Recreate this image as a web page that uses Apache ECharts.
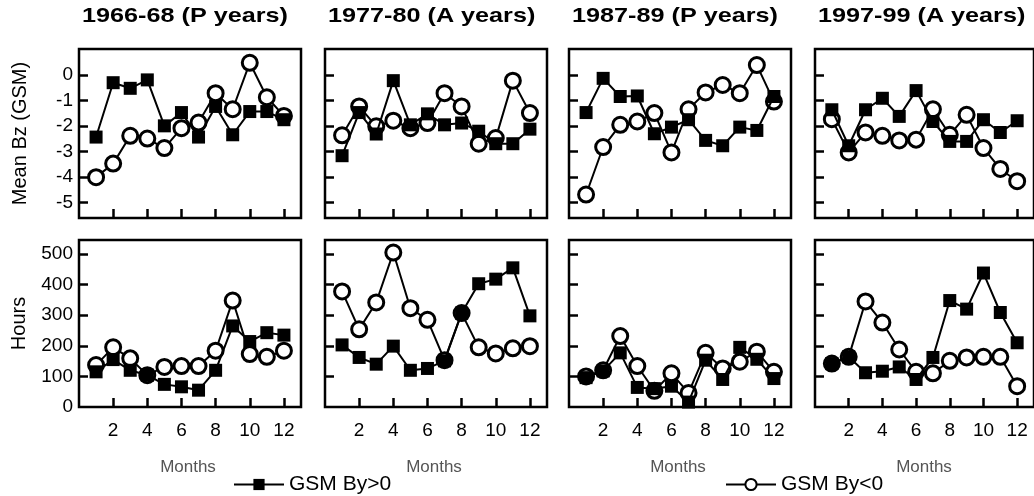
<!DOCTYPE html>
<html>
<head>
<meta charset="utf-8">
<script src="https://cdn.jsdelivr.net/npm/echarts@6/dist/echarts.min.js"></script>
<style>
html,body{margin:0;padding:0;background:#fff;}
#chart{width:1034px;height:496px;}
</style>
</head>
<body>
<div id="chart"></div>
<script>
// ---------------- DATA ----------------
const months = [1,2,3,4,5,6,7,8,9,10,11,12];
const panelTitles = ['1966-68 (P years)', '1977-80 (A years)', '1987-89 (P years)', '1997-99 (A years)'];
const xTickValues = [2,4,6,8,10,12];
const bzTickValues = [-5,-4,-3,-2,-1,0];
const hoursTickValues = [0,100,200,300,400,500];

// Mean Bz (GSM), By>0 (filled squares)
const bzPos6668 = [-2.43,-0.30,-0.52,-0.19,-1.99,-1.47,-2.43,-1.23,-2.34,-1.43,-1.43,-1.75];
const bzPos7780 = [-3.16,-1.47,-2.31,-0.22,-1.95,-1.52,-1.95,-1.88,-2.20,-2.69,-2.69,-2.12];
const bzPos8789 = [-1.47,-0.13,-0.84,-0.82,-2.30,-2.04,-1.75,-2.56,-2.77,-2.04,-2.17,-0.84];
const bzPos9799 = [-1.36,-2.77,-1.36,-0.91,-1.62,-0.61,-1.82,-2.60,-2.60,-1.75,-2.25,-1.79];
// Mean Bz (GSM), By<0 (open circles)
const bzNeg6668 = [-4.00,-3.47,-2.38,-2.49,-2.86,-2.08,-1.86,-0.71,-1.34,0.48,-0.87,-1.60];
const bzNeg7780 = [-2.36,-1.23,-2.01,-1.79,-2.08,-1.88,-0.71,-1.23,-2.69,-2.47,-0.22,-1.49];
const bzNeg8789 = [-4.68,-2.82,-1.95,-1.82,-1.49,-3.03,-1.34,-0.68,-0.39,-0.71,0.39,-1.04];
const bzNeg9799 = [-1.73,-3.03,-2.25,-2.38,-2.56,-2.53,-1.34,-2.34,-1.56,-2.86,-3.68,-4.16];

// Hours, By>0
const hrsPos6668 = [115,155,120,104,74,66,55,120,265,214,243,235];
const hrsPos7780 = [203,162,140,199,120,126,151,307,403,418,455,298];
const hrsPos8789 = [96,118,177,64,60,68,16,153,90,195,156,93];
const hrsPos9799 = [142,164,112,117,131,90,162,348,320,438,309,210];
// Hours, By<0
const hrsNeg6668 = [137,195,159,104,131,134,134,184,348,173,164,184];
const hrsNeg7780 = [378,254,342,505,323,285,153,307,195,175,192,199];
const hrsNeg8789 = [100,120,232,134,53,110,46,177,126,148,181,115];
const hrsNeg9799 = [142,164,345,276,188,115,110,151,162,164,164,68];

const bzPos = [bzPos6668, bzPos7780, bzPos8789, bzPos9799];
const bzNeg = [bzNeg6668, bzNeg7780, bzNeg8789, bzNeg9799];
const hrsPos = [hrsPos6668, hrsPos7780, hrsPos8789, hrsPos9799];
const hrsNeg = [hrsNeg6668, hrsNeg7780, hrsNeg8789, hrsNeg9799];

// ---------------- LAYOUT ----------------
const FONT = '"Liberation Sans", Arial, sans-serif';
const panelLeft = [79, 325, 569, 815];
const panelWidth = 222;
const topRow = {top: 49, height: 169};
const botRow = {top: 240, height: 167};

const grids = [], xAxes = [], yAxes = [], series = [];
const pairs = v => months.map((m, i) => [m, v[i]]);

function addPanel(idx, row, col) {
  const r = row === 0 ? topRow : botRow;
  grids.push({left: panelLeft[col], top: r.top, width: panelWidth, height: r.height,
    show: true, borderColor: '#000', borderWidth: 2.5, backgroundColor: 'transparent'});
  xAxes.push({
    type: 'value', gridIndex: idx, min: 0, max: 13, position: 'bottom',
    axisLine: {show: false, onZero: false},
    axisTick: {show: true, inside: true, length: 9, customValues: xTickValues,
      lineStyle: {color: '#000', width: 2.5}},
    axisLabel: {show: row === 1, customValues: xTickValues, margin: 14,
      color: '#000', fontSize: 19, fontFamily: FONT},
    splitLine: {show: false}
  });
  const isBz = row === 0;
  yAxes.push({
    type: 'value', gridIndex: idx, position: 'left',
    min: isBz ? -5.6 : 0, max: isBz ? 1.02 : 546,
    axisLine: {show: false, onZero: false},
    axisTick: {show: true, inside: true, length: 9,
      customValues: isBz ? bzTickValues : hoursTickValues.slice(1),
      lineStyle: {color: '#000', width: 2.5}},
    axisLabel: {show: col === 0, customValues: isBz ? bzTickValues : hoursTickValues,
      margin: 6, color: '#000', fontSize: 19, fontFamily: FONT},
    splitLine: {show: false},
    name: col === 0 ? (isBz ? 'Mean Bz (GSM)' : 'Hours') : '',
    nameLocation: 'middle', nameGap: isBz ? 49 : 50, nameRotate: 90,
    nameTextStyle: {color: '#000', fontSize: 20, fontFamily: FONT}
  });
  const posData = isBz ? bzPos[col] : hrsPos[col];
  const negData = isBz ? bzNeg[col] : hrsNeg[col];
  series.push({
    name: 'GSM By<0', type: 'line', xAxisIndex: idx, yAxisIndex: idx,
    data: pairs(negData), symbol: 'circle', symbolSize: 15,
    lineStyle: {color: '#000', width: 2},
    itemStyle: {color: '#fff', borderColor: '#000', borderWidth: 3},
    z: 2, animation: false
  });
  series.push({
    name: 'GSM By>0', type: 'line', xAxisIndex: idx, yAxisIndex: idx,
    data: pairs(posData), symbol: 'rect', symbolSize: 13,
    lineStyle: {color: '#000', width: 2},
    itemStyle: {color: '#000', borderColor: '#000', borderWidth: 0},
    z: 3, animation: false
  });
}

for (let row = 0; row < 2; row++) {
  for (let col = 0; col < 4; col++) {
    addPanel(row * 4 + col, row, col);
  }
}

const titleTexts = panelTitles.map((t, i) => ({
  type: 'text', x: panelLeft[i] + 3, y: 16, scaleX: 1.2, scaleY: 1,
  style: {text: t, fill: '#000', font: 'bold 21px ' + FONT,
    textAlign: 'left', textVerticalAlign: 'middle'}
}));

const monthsLabels = panelLeft.map(l => ({
  type: 'text', x: l + panelWidth / 2 - 2, y: 467,
  style: {text: 'Months', fill: '#555', font: '17px ' + FONT,
    textAlign: 'center', textVerticalAlign: 'middle'}
}));

const chart = echarts.init(document.getElementById('chart'), null, {renderer: 'canvas'});
chart.setOption({
  animation: false,
  backgroundColor: '#fff',
  grid: grids,
  xAxis: xAxes,
  yAxis: yAxes,
  series: series,
  graphic: titleTexts.concat(monthsLabels),
  legend: [
    {data: ['GSM By>0'], left: 228, top: 469, itemWidth: 50, itemHeight: 14, itemGap: 10,
      textStyle: {fontSize: 21, color: '#000', fontFamily: FONT}},
    {data: ['GSM By<0'], left: 720, top: 469, itemWidth: 50, itemHeight: 14, itemGap: 10,
      textStyle: {fontSize: 21, color: '#000', fontFamily: FONT}}
  ]
});
</script>
</body>
</html>
